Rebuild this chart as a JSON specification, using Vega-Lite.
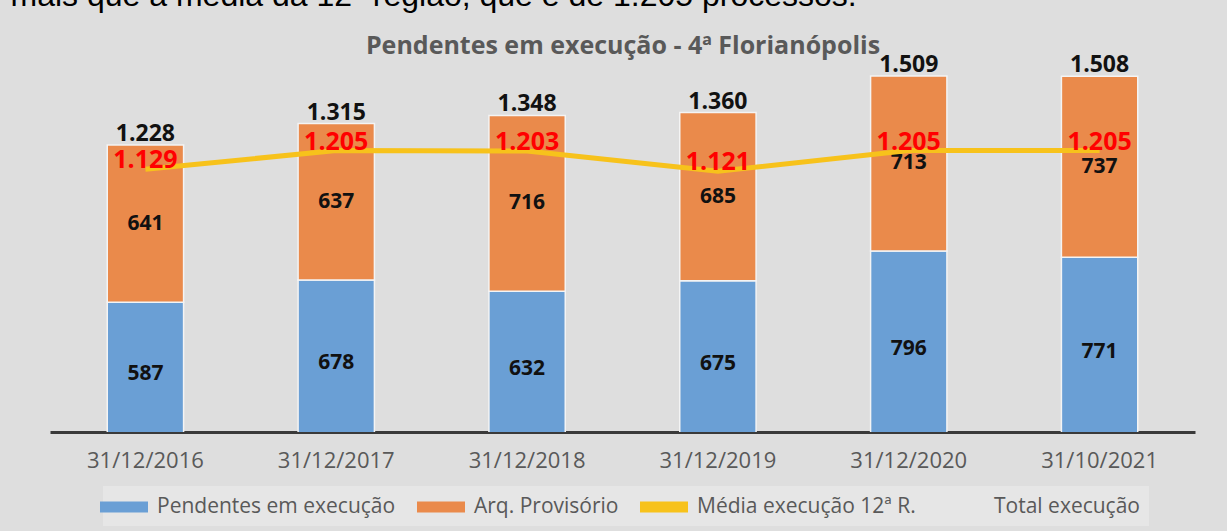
{
  "$schema": "https://vega.github.io/schema/vega-lite/v6.json",
  "autosize": {"type": "none"},
  "width": 1145,
  "height": 402,
  "padding": {"left": 50, "top": 30, "right": 32, "bottom": 99},
  "background": "#dedede",
  "config": {
    "locale": {"number": {"decimal": ",", "thousands": ".", "grouping": [3], "currency": ["R$", ""]}},
    "view": {"stroke": null},
    "font": "Open Sans"
  },
  "datasets": {
    "barras": [
      {"data": "31/12/2016", "serie": "Pendentes em execução", "valor": 587},
      {"data": "31/12/2016", "serie": "Arq. Provisório", "valor": 641},
      {"data": "31/12/2017", "serie": "Pendentes em execução", "valor": 678},
      {"data": "31/12/2017", "serie": "Arq. Provisório", "valor": 637},
      {"data": "31/12/2018", "serie": "Pendentes em execução", "valor": 632},
      {"data": "31/12/2018", "serie": "Arq. Provisório", "valor": 716},
      {"data": "31/12/2019", "serie": "Pendentes em execução", "valor": 675},
      {"data": "31/12/2019", "serie": "Arq. Provisório", "valor": 685},
      {"data": "31/12/2020", "serie": "Pendentes em execução", "valor": 796},
      {"data": "31/12/2020", "serie": "Arq. Provisório", "valor": 713},
      {"data": "31/10/2021", "serie": "Pendentes em execução", "valor": 771},
      {"data": "31/10/2021", "serie": "Arq. Provisório", "valor": 737}
    ],
    "linha": [
      {"data": "31/12/2016", "total": 1228, "media": 1129},
      {"data": "31/12/2017", "total": 1315, "media": 1205},
      {"data": "31/12/2018", "total": 1348, "media": 1203},
      {"data": "31/12/2019", "total": 1360, "media": 1121},
      {"data": "31/12/2020", "total": 1509, "media": 1205},
      {"data": "31/10/2021", "total": 1508, "media": 1205}
    ]
  },
  "encoding": {
    "x": {
      "field": "data",
      "type": "nominal",
      "sort": null,
      "scale": {"paddingInner": 0.6, "paddingOuter": 0.3},
      "axis": {
        "title": "mais que a média da 12ª região, que é de 1.205 processos.",
        "titleAngle": 0,
        "titleAlign": "left",
        "titleBaseline": "alphabetic",
        "titleX": -40,
        "titleY": -427,
        "titleFont": "Liberation Sans",
        "titleFontSize": 32,
        "titleFontWeight": "normal",
        "titleColor": "#000000",
        "labelAngle": 0,
        "labelFont": "Open Sans",
        "labelFontSize": 22,
        "labelColor": "#595959",
        "labelPadding": 18,
        "ticks": false,
        "tickSize": 0,
        "domainColor": "#3a3a3a",
        "domainWidth": 3
      }
    }
  },
  "layer": [
    {
      "data": {"name": "barras"},
      "mark": {"type": "bar", "clip": true, "stroke": "#f4f4f4", "strokeWidth": 1.5},
      "encoding": {
        "y": {
          "field": "valor",
          "type": "quantitative",
          "stack": "zero",
          "scale": {"domain": [59, 1696], "zero": false, "nice": false},
          "axis": {
            "title": "Pendentes em execução - 4ª Florianópolis",
            "labels": false,
            "ticks": false,
            "domain": false,
            "grid": false,
            "titleAngle": 0,
            "titleAlign": "center",
            "titleBaseline": "middle",
            "titleX": 572.5,
            "titleY": 15,
            "titleFont": "Open Sans",
            "titleFontSize": 25,
            "titleFontWeight": "bold",
            "titleColor": "#595959"
          }
        },
        "order": {"field": "serie", "sort": "descending"},
        "color": {
          "field": "serie",
          "type": "nominal",
          "scale": {
            "domain": ["Pendentes em execução", "Arq. Provisório", "Média execução 12ª R.", "Total execução"],
            "range": ["#6a9fd5", "#ea8a4b", "#f7c21b", "transparent"]
          },
          "legend": {
            "title": null,
            "orient": "none",
            "legendX": 53,
            "legendY": 456,
            "direction": "horizontal",
            "columns": 4,
            "columnPadding": 21,
            "padding": 9,
            "fillColor": "#e6e6e6",
            "labelFont": "Open Sans",
            "labelFontSize": 21,
            "labelColor": "#595959",
            "labelOffset": 21,
            "labelLimit": 400,
            "symbolType": "M-2,-0.46H2V0.46H-2Z",
            "symbolSize": 576,
            "symbolStrokeWidth": 0,
            "symbolOpacity": 1,
            "encode": {
              "symbols": {
                "update": {
                  "shape": {"signal": "datum.value === 'Média execução 12ª R.' ? 'M-2,-0.22H2V0.22H-2Z' : 'M-2,-0.46H2V0.46H-2Z'"}
                }
              }
            }
          }
        }
      }
    },
    {
      "data": {"name": "barras"},
      "mark": {"type": "text", "font": "Open Sans", "fontSize": 21, "fontWeight": "bold", "color": "#111111", "baseline": "middle"},
      "encoding": {
        "y": {"field": "valor", "type": "quantitative", "stack": "zero", "bandPosition": 0.5},
        "order": {"field": "serie", "sort": "descending"},
        "detail": {"field": "serie"},
        "text": {"field": "valor", "type": "quantitative", "format": ","}
      }
    },
    {
      "data": {"name": "linha"},
      "mark": {"type": "line", "color": "#f7c21b", "strokeWidth": 5},
      "encoding": {
        "y": {"field": "media", "type": "quantitative"}
      }
    },
    {
      "data": {"name": "linha"},
      "mark": {"type": "text", "font": "Open Sans", "fontSize": 25, "fontWeight": "bold", "color": "#ff0000", "baseline": "middle", "dy": -9},
      "encoding": {
        "y": {"field": "media", "type": "quantitative"},
        "text": {"field": "media", "type": "quantitative", "format": ","}
      }
    },
    {
      "data": {"name": "linha"},
      "mark": {"type": "text", "font": "Open Sans", "fontSize": 23, "fontWeight": "bold", "color": "#111111", "baseline": "middle", "dy": -11},
      "encoding": {
        "y": {"field": "total", "type": "quantitative"},
        "text": {"field": "total", "type": "quantitative", "format": ","}
      }
    }
  ]
}
